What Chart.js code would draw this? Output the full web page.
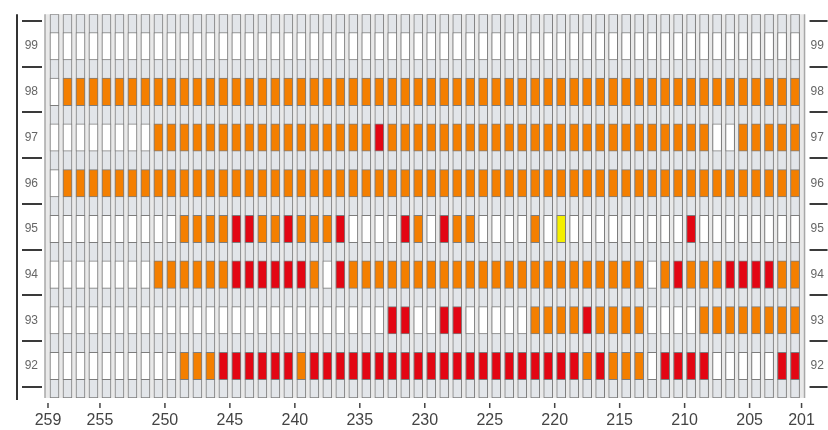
<!DOCTYPE html>
<html lang="en">
<head>
    <meta charset="UTF-8">
    <title>Grid chart</title>
    <script src="https://cdn.jsdelivr.net/npm/chart.js"></script>
    <style>
        html, body { margin: 0; padding: 0; background: #fff; }
        canvas { display: block; }
    </style>
</head>
<body>
    <canvas id="gridChart" width="828" height="430"></canvas>

    <script>
        // columns left to right, each one covers [c, c+1]
        const columns = [258, 257, 256, 255, 254, 253, 252, 251, 250, 249,
                         248, 247, 246, 245, 244, 243, 242, 241, 240, 239,
                         238, 237, 236, 235, 234, 233, 232, 231, 230, 229,
                         228, 227, 226, 225, 224, 223, 222, 221, 220, 219,
                         218, 217, 216, 215, 214, 213, 212, 211, 210, 209,
                         208, 207, 206, 205, 204, 203, 202, 201];
        const xTicks = [259, 255, 250, 245, 240, 235, 230, 225, 220, 215, 210, 205, 201];
        const rowLabels = [99, 98, 97, 96, 95, 94, 93, 92];

        // 0 = empty, 1 = orange, 2 = red, 3 = yellow
        const row99 = [0,0,0,0,0,0,0,0,0,0, 0,0,0,0,0,0,0,0,0,0, 0,0,0,0,0,0,0,0,0,0,
                       0,0,0,0,0,0,0,0,0,0, 0,0,0,0,0,0,0,0,0,0, 0,0,0,0,0,0,0,0];
        const row98 = [0,1,1,1,1,1,1,1,1,1, 1,1,1,1,1,1,1,1,1,1, 1,1,1,1,1,1,1,1,1,1,
                       1,1,1,1,1,1,1,1,1,1, 1,1,1,1,1,1,1,1,1,1, 1,1,1,1,1,1,1,1];
        const row97 = [0,0,0,0,0,0,0,0,1,1, 1,1,1,1,1,1,1,1,1,1, 1,1,1,1,1,2,1,1,1,1,
                       1,1,1,1,1,1,1,1,1,1, 1,1,1,1,1,1,1,1,1,1, 1,0,0,1,1,1,1,1];
        const row96 = [0,1,1,1,1,1,1,1,1,1, 1,1,1,1,1,1,1,1,1,1, 1,1,1,1,1,1,1,1,1,1,
                       1,1,1,1,1,1,1,1,1,1, 1,1,1,1,1,1,1,1,1,1, 1,1,1,1,1,1,1,1];
        const row95 = [0,0,0,0,0,0,0,0,0,0, 1,1,1,1,2,2,1,1,2,1, 1,1,2,0,0,0,0,2,1,0,
                       2,1,1,0,0,0,0,1,0,3, 0,0,0,0,0,0,0,0,0,2, 0,0,0,0,0,0,0,0];
        const row94 = [0,0,0,0,0,0,0,0,1,1, 1,1,1,1,2,2,2,2,2,2, 1,0,2,1,1,1,1,1,1,1,
                       1,1,1,1,1,1,1,1,1,1, 1,1,1,1,1,1,0,1,2,1, 1,1,2,2,2,2,1,1];
        const row93 = [0,0,0,0,0,0,0,0,0,0, 0,0,0,0,0,0,0,0,0,0, 0,0,0,0,0,0,2,2,0,0,
                       2,2,0,0,0,0,0,1,1,1, 1,2,1,1,1,1,0,0,0,0, 1,1,1,1,1,1,1,1];
        const row92 = [0,0,0,0,0,0,0,0,0,0, 1,1,1,2,2,2,2,2,2,1, 2,2,2,2,2,2,2,2,2,2,
                       2,2,2,2,2,2,2,2,2,2, 2,1,2,1,1,1,0,2,2,2, 2,0,0,0,0,0,2,2];
        const rowCodes = [row99, row98, row97, row96, row95, row94, row93, row92];

        const cellColors = ['#ffffff', '#f47f00', '#e30613', '#f4ef00'];
        const yMin = 91.3, yMax = 99.7;
        const xMin = 200.77, xMax = 259.23;
        const cellHalf = 0.3;
        const edge = '#7d7d7d';

        const datasets = rowLabels.map((r, k) => ({
            label: String(r),
            data: columns.map(c => ({ x: c + 0.5, y: [r - cellHalf, r + cellHalf] })),
            backgroundColor: rowCodes[k].map(v => cellColors[v]),
            borderColor: edge,
            borderWidth: 1,
            borderSkipped: false,
            order: 0
        }));
        // full-height column behind the cells
        datasets.push({
            label: 'column',
            data: columns.map(c => ({ x: c + 0.5, y: [yMin, yMax] })),
            backgroundColor: '#e2e5e9',
            borderColor: edge,
            borderWidth: 1,
            borderSkipped: false,
            order: 1
        });

        // plot background, axis line, dashes and x tick marks
        const frame = {
            id: 'frame',
            beforeDatasetsDraw(chart) {
                const { ctx, chartArea: a } = chart;
                ctx.save();
                ctx.fillStyle = '#e9e9e9';
                ctx.fillRect(a.left, a.top, a.right - a.left, a.bottom - a.top);
                ctx.strokeStyle = '#a8a8a8';
                ctx.lineWidth = 1.5;
                ctx.beginPath();
                ctx.moveTo(a.left, a.top); ctx.lineTo(a.left, a.bottom);
                ctx.moveTo(a.right, a.top); ctx.lineTo(a.right, a.bottom);
                ctx.stroke();
                ctx.restore();
            },
            afterDraw(chart) {
                const { ctx, chartArea: a, scales } = chart;
                const y = scales.y, y2 = scales.y2, x = scales.x;
                ctx.save();
                ctx.strokeStyle = '#333';
                ctx.lineWidth = 2;
                ctx.beginPath();
                ctx.moveTo(y.left + 1, a.top);
                ctx.lineTo(y.left + 1, a.bottom + 2);
                ctx.stroke();

                ctx.strokeStyle = '#3a3a3a';
                ctx.lineWidth = 2;
                ctx.beginPath();
                for (let n = 91; n <= 99; n++) {
                    const py = Math.round(y.getPixelForValue(n + 0.55));
                    ctx.moveTo(y.left + 6, py); ctx.lineTo(y.left + 26, py);
                    ctx.moveTo(y2.left + 5, py); ctx.lineTo(y2.right, py);
                }
                ctx.stroke();

                ctx.strokeStyle = '#444';
                ctx.lineWidth = 1.5;
                ctx.beginPath();
                xTicks.forEach(t => {
                    const px = x.getPixelForValue(t);
                    ctx.moveTo(px, a.bottom + 5); ctx.lineTo(px, a.bottom + 10);
                });
                ctx.stroke();
                ctx.restore();
            }
        };

        const yAxis = (pos, width, pad) => ({
            type: 'linear',
            position: pos,
            min: yMin,
            max: yMax,
            afterBuildTicks: scale => { scale.ticks = rowLabels.map(v => ({ value: v })); },
            afterFit: scale => { scale.width = width; },
            grid: { display: false, drawTicks: false },
            border: { display: false },
            ticks: {
                padding: pad,
                color: '#666',
                font: { family: 'Liberation Sans', size: 12 },
                callback: v => String(v)
            }
        });

        new Chart(document.getElementById('gridChart'), {
            type: 'bar',
            data: { datasets: datasets },
            options: {
                responsive: false,
                animation: false,
                grouped: false,
                barThickness: 9,
                layout: { padding: { left: 16, top: 5, right: 0, bottom: 0 } },
                plugins: {
                    legend: { display: false },
                    tooltip: { enabled: false }
                },
                scales: {
                    x: {
                        type: 'linear',
                        min: xMin,
                        max: xMax,
                        reverse: true,
                        offset: false,
                        afterBuildTicks: scale => { scale.ticks = xTicks.map(v => ({ value: v })); },
                        afterFit: scale => { scale.height = 32; },
                        grid: { display: false, drawTicks: false, offset: false },
                        border: { display: false },
                        ticks: {
                            autoSkip: false,
                            maxRotation: 0,
                            padding: 13,
                            color: '#444',
                            font: { family: 'Liberation Sans', size: 16 },
                            callback: v => String(v)
                        }
                    },
                    y: yAxis('left', 29, 7),
                    y2: yAxis('right', 23, 6)
                }
            },
            plugins: [frame]
        });
    </script>
</body>
</html>
